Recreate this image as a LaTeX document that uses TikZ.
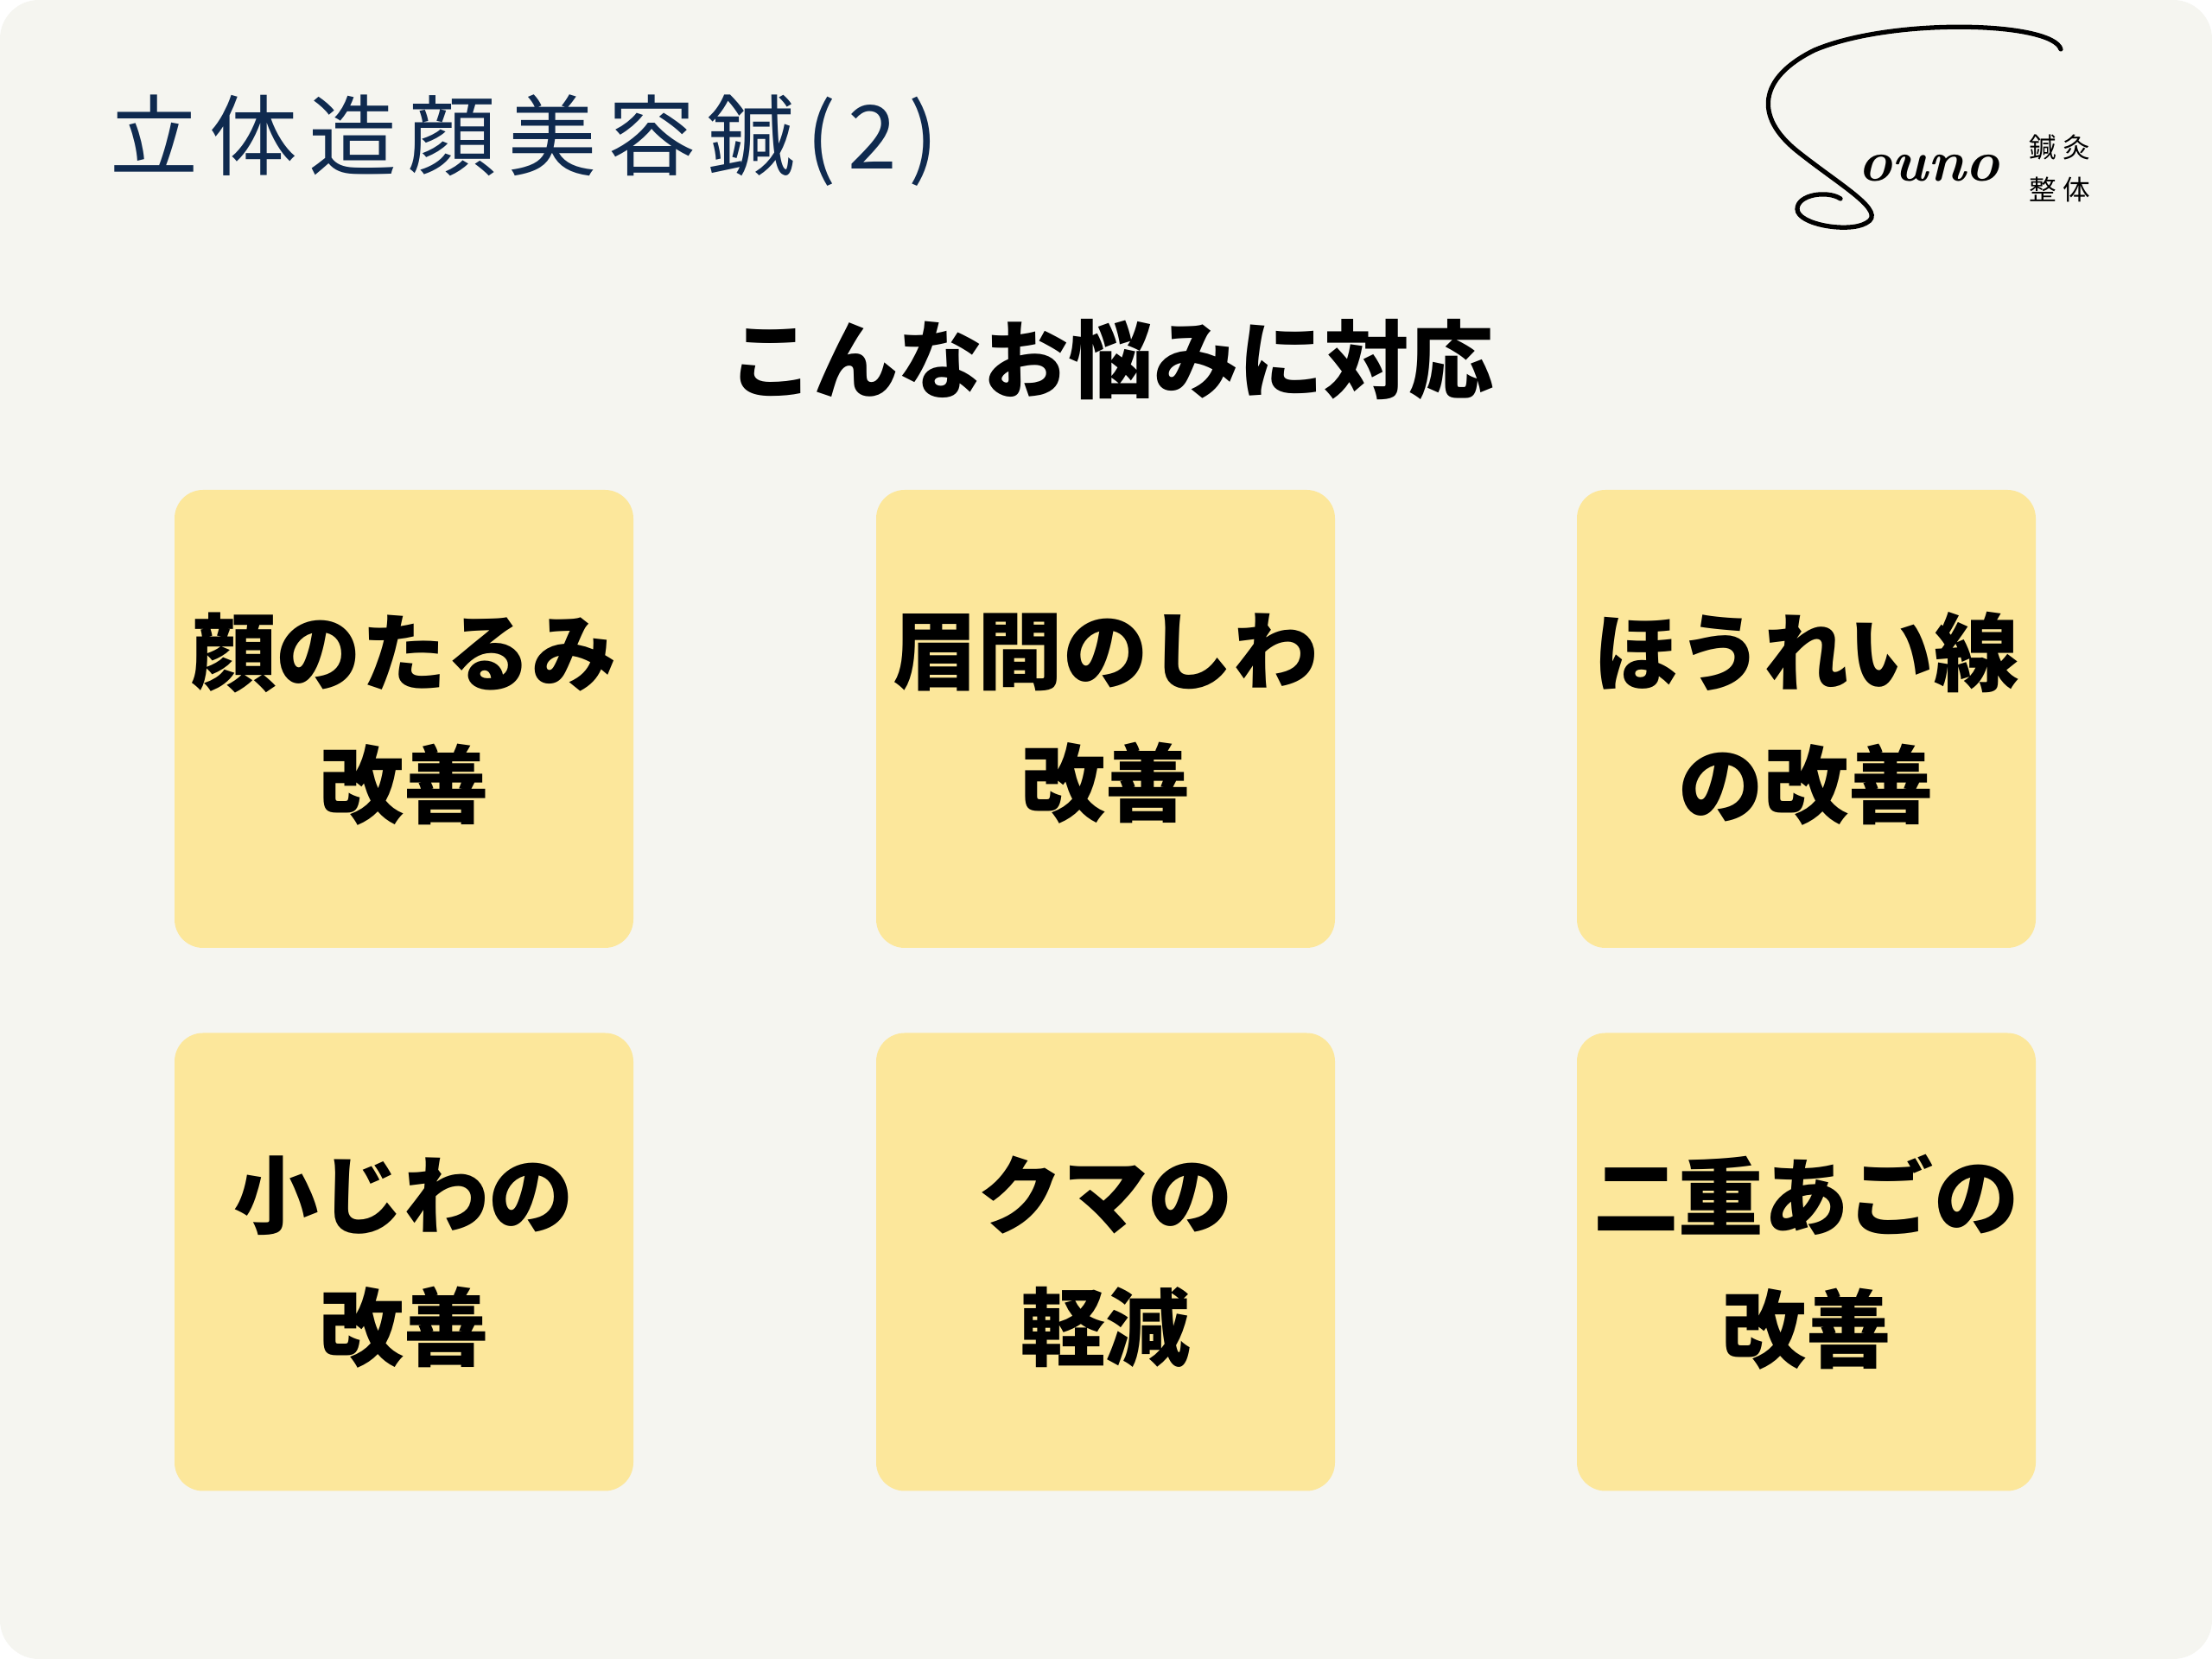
\documentclass[tikz,border=0pt]{standalone}
\usepackage{fontspec}
\usepackage{tikz}
\newfontfamily\jp{Noto Sans CJK JP}
\newfontfamily\jptitle{Noto Sans CJK JP}[LetterSpace=13]
\newfontfamily\jpsmall{Noto Sans CJK JP}[LetterSpace=24]
\definecolor{cream1}{HTML}{F5F5F0}
\definecolor{yellow3}{HTML}{FCE79B}
\definecolor{navy2}{HTML}{0F2A4F}

\begin{document}
\begin{tikzpicture}[align=center,
  card/.style={fill=yellow3, rounded corners=0.33cm, minimum width=5.31cm, minimum height=5.30cm, inner sep=0pt, font=\jp\bfseries\fontsize{28}{43.5}\selectfont},
  logoline/.style={line width=1.5pt, line cap=round},
  logojp/.style={inner sep=0pt, font=\jpsmall\fontsize{9}{9}\selectfont}]
\useasboundingbox (0,0) rectangle (25.6,19.2);
\fill[white] (0,0) rectangle (25.6,19.2);
\fill[cream1, rounded corners=0.45cm] (0,0) rectangle (25.6,19.2);
\node[anchor=west, text=navy2, font=\jptitle\fontsize{29}{29}\selectfont] (title) at (1.15,17.57) {立体造顔美容鍼(2)};
\node[font=\jp\bfseries\fontsize{28}{28}\selectfont] (sub) at (12.86,15.04) {こんなお悩みに対応};
\node[card] (tarumi) at (4.675,10.88) {顔のたるみ\\改善};
\node[card] (miken) at (12.795,10.88) {眉間のしわ\\改善};
\node[card] (horei) at (20.905,10.88) {ほうれい線\\の改善};
\node[card] (kojiwa) at (4.675,4.595) {小じわの\\改善};
\node[card] (kuma) at (12.795,4.595) {クマの\\軽減};
\node[card] (ago) at (20.905,4.595) {二重あごの\\改善};
\draw[logoline] (23.85,18.63) .. controls (23.75,18.95) and (21.9,19.0) .. (21.0,18.62)
  .. controls (20.35,18.3) and (20.3,17.85) .. (20.8,17.45)
  .. controls (21.3,17.05) and (21.85,16.75) .. (21.6,16.62)
  .. controls (21.4,16.5) and (20.8,16.6) .. (20.8,16.78)
  .. controls (20.8,16.95) and (21.15,17.0) .. (21.3,16.9);
\node[anchor=base, inner sep=0pt, font=\bfseries\itshape\fontsize{19}{19}\selectfont] (ouno) at (22.32,17.10) {ouno};
\node[logojp] (shinkyu) at (23.84,17.49) {鍼灸};
\node[logojp] (seitai) at (23.84,17.01) {整体};
\end{tikzpicture}
\end{document}
